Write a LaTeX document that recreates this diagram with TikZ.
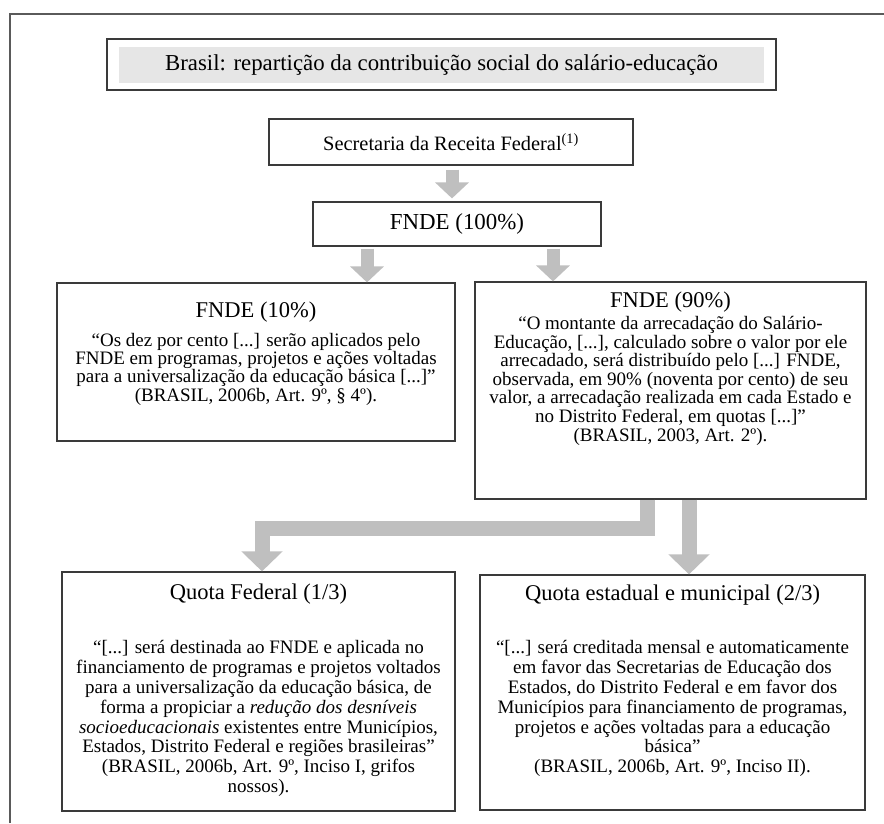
\documentclass[tikz,border=0pt]{standalone}
\usepackage{fontspec}
\setmainfont{Liberation Serif}
\usetikzlibrary{arrows.meta}
\definecolor{arrowgray}{HTML}{BFBFBF}
\definecolor{titlegray}{HTML}{E6E6E6}
\definecolor{framegray}{HTML}{5A5A5A}
\definecolor{boxline}{HTML}{3A3A3A}
\begin{document}
\begin{tikzpicture}[x=1pt,y=-1pt,
  box/.style={draw=boxline, line width=1.2pt, inner sep=0pt, rectangle},
  bodytxt/.style={align=center, inner sep=0pt, font=\fontsize{19}{18.3}\selectfont},
  bodywide/.style={align=center, inner sep=0pt, font=\fontsize{19}{19.9}\selectfont},
  headtxt/.style={align=center, inner sep=0pt, font=\fontsize{22.5}{24}\selectfont},
  smallarrow/.style={draw=arrowgray, line width=13pt, -{Triangle[width=33pt,length=16pt]}},
  bigarrow/.style={draw=arrowgray, line width=15pt, line join=miter, -{Triangle[width=40pt,length=20pt]}},
  ]
\useasboundingbox (0,0) rectangle (884,823);
\draw[framegray, line width=1.5pt] (10,823) -- (10,14) -- (884,14);

% title
\node[box, minimum width=669pt, minimum height=51pt] (titlebox) at (441.5,64.5) {};
\node[fill=titlegray, inner sep=0pt, minimum width=645pt, minimum height=36pt,
      font=\fontsize{22.8}{24}\selectfont] (title) at (441.5,65)
      {Brasil: repartição da contribuição social do salário-educação};

% top boxes
\node[box, minimum width=364pt, minimum height=46pt,
      font=\fontsize{20.4}{22}\selectfont] (sec) at (451,142)
      {Secretaria da Receita Federal\textsuperscript{(1)}};
\node[box, minimum width=288pt, minimum height=44pt,
      font=\fontsize{22.9}{24}\selectfont] (f100) at (457,224) {FNDE (100\%)};

% middle boxes
\node[box, minimum width=398pt, minimum height=158pt] (f10) at (256,362) {};
\node[headtxt] (f10h) at (256,312) {FNDE (10\%)};
\node[bodytxt, anchor=north] (f10b) at (256,333)
  {“Os dez por cento [...] serão aplicados pelo\\
   FNDE em programas, projetos e ações voltadas\\
   para a universalização da educação básica [...]”\\
   (BRASIL, 2006b, Art. 9º, § 4º).};

\node[box, minimum width=391pt, minimum height=217pt] (f90) at (670.5,390.5) {};
\node[headtxt] (f90h) at (670.5,302) {FNDE (90\%)};
\node[bodytxt, anchor=north, font=\fontsize{19}{18.6}\selectfont] (f90b) at (670.5,316)
  {“O montante da arrecadação do Salário-\\
   Educação, [...], calculado sobre o valor por ele\\
   arrecadado, será distribuído pelo [...] FNDE,\\
   observada, em 90\% (noventa por cento) de seu\\
   valor, a arrecadação realizada em cada Estado e\\
   no Distrito Federal, em quotas [...]"\\
   (BRASIL, 2003, Art. 2º).};

% bottom boxes
\node[box, minimum width=393pt, minimum height=239pt] (qf) at (258.5,691.5) {};
\node[headtxt] (qfh) at (258.5,594) {Quota Federal (1/3)};
\node[bodywide, anchor=north] (qfb) at (258.5,640)
  {“[...] será destinada ao FNDE e aplicada no\\
   financiamento de programas e projetos voltados\\
   para a universalização da educação básica, de\\
   forma a propiciar a \textit{redução dos desníveis}\\
   \textit{socioeducacionais} existentes entre Municípios,\\
   Estados, Distrito Federal e regiões brasileiras”\\
   (BRASIL, 2006b, Art. 9º, Inciso I, grifos\\
   nossos).};

\node[box, minimum width=385pt, minimum height=235pt] (qe) at (672.5,692.5) {};
\node[headtxt] (qeh) at (672.5,595) {Quota estadual e municipal (2/3)};
\node[bodywide, anchor=north] (qeb) at (672.5,640)
  {“[...] será creditada mensal e automaticamente\\
   em favor das Secretarias de Educação dos\\
   Estados, do Distrito Federal e em favor dos\\
   Municípios para financiamento de programas,\\
   projetos e ações voltadas para a educação\\
   básica”\\
   (BRASIL, 2006b, Art. 9º, Inciso II).};

% arrow guide coordinates
\coordinate (xa) at (452,0);
\coordinate (xb) at (367,0);
\coordinate (xc) at (553,0);
\coordinate (xd) at (647,0);
\coordinate (xe) at (262,0);
\coordinate (xf) at (689,0);
\coordinate (bend) at (262,528);

\draw[smallarrow, shorten <=4pt, shorten >=3pt] (sec.south -| xa) -- (f100.north -| xa);
\draw[smallarrow, shorten <=2pt] (f100.south -| xb) -- (f10.north -| xb);
\draw[smallarrow, shorten <=2pt] (f100.south -| xc) -- (f90.north -| xc);
\draw[bigarrow] (f90.south -| xd) |- (bend) -- (qf.north -| xe);
\draw[bigarrow] (f90.south -| xf) -- (qe.north -| xf);
\end{tikzpicture}
\end{document}
